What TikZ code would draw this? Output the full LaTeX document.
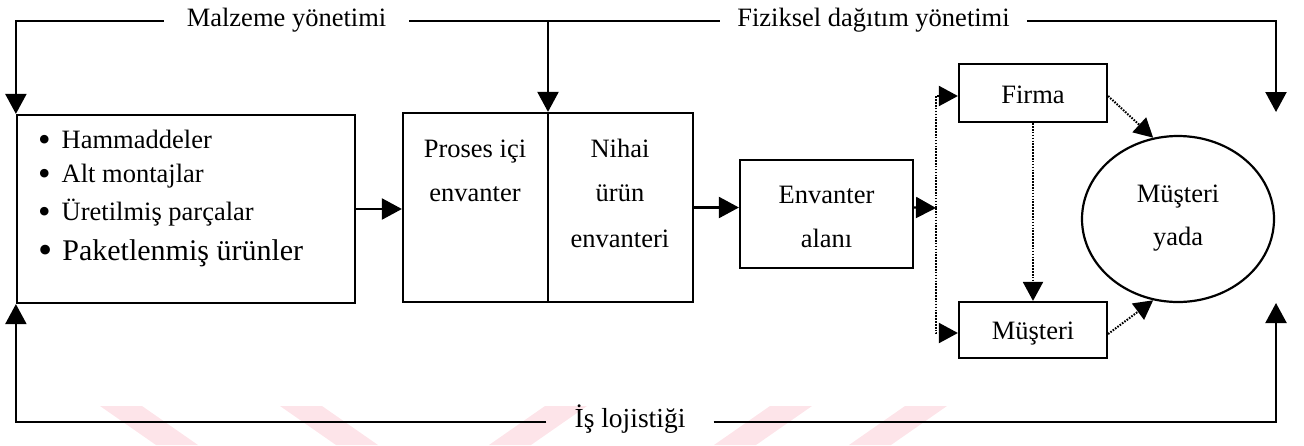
\documentclass[tikz,border=0pt]{standalone}
\usepackage{fontspec}
\usepackage{graphicx}
\setmainfont{Liberation Serif}
\usetikzlibrary{arrows.meta,shapes.geometric}
\definecolor{stripe}{RGB}{253,228,233}
\newcommand{\bigdot}{\raisebox{-3pt}{\scalebox{1.35}{\textbullet}}}
\begin{document}
\begin{tikzpicture}[x=1pt,y=-1pt,
  every node/.style={font=\fontsize{26.5}{30}\selectfont, inner sep=0pt},
  frame/.style={draw, line width=2.2pt, rectangle},
  plain/.style={line width=2.2pt},
  link/.style={line width=2.2pt, -{Triangle[length=20pt,width=21pt]}},
  dotlink/.style={line width=2pt, dash pattern=on 1.6pt off 1.3pt, -{Triangle[length=19pt,width=20pt]}},
  lbl/.style={text height=18pt, text depth=7pt},
  big/.style={font=\fontsize{30}{34}\selectfont}
]
\useasboundingbox (0,0) rectangle (1304,445);

% faint diagonal stripes along the lower edge
\fill[stripe] (100,406) -- (142,406) -- (198,445) -- (156,445) -- cycle;
\fill[stripe] (280,406) -- (322,406) -- (378,445) -- (336,445) -- cycle;
\fill[stripe] (545,406) -- (587,406) -- (531,445) -- (489,445) -- cycle;
\fill[stripe] (770,406) -- (812,406) -- (756,445) -- (714,445) -- cycle;
\fill[stripe] (905,406) -- (947,406) -- (891,445) -- (849,445) -- cycle;

% boxes
\node[frame, minimum width=338pt, minimum height=188pt] (lbox) at (186,209) {};
\node[frame, minimum width=290pt, minimum height=189pt] (pbox) at (548,207.5) {};
\node[frame, minimum width=173pt, minimum height=108pt] (env) at (826.5,214) {};
\node[frame, minimum width=148pt, minimum height=58pt] (firma) at (1033,93) {};
\node[frame, minimum width=148pt, minimum height=56pt] (must) at (1033,330) {};
\node[draw, line width=2.2pt, ellipse, minimum width=192pt, minimum height=166pt] (circ) at (1178,219) {};

% divider of the inventory box
\draw[plain] (pbox.north) -- (pbox.south);

% list of materials
\node[anchor=base west] (h1) at (38,148) {\bigdot\hspace{11pt}Hammaddeler};
\node[anchor=base west] (h2) at (38,182) {\bigdot\hspace{11pt}Alt montajlar};
\node[anchor=base west] (h3) at (38,220) {\bigdot\hspace{11pt}Üretilmiş parçalar};
\node[anchor=base west, big] (h4) at (38,260) {\bigdot\hspace{10pt}Paketlenmiş ürünler};

% inventory texts
\node[anchor=base] (p1) at (475,157) {Proses içi};
\node[anchor=base] (p2) at (475,201) {envanter};
\node[anchor=base] (n1) at (620,157) {Nihai};
\node[anchor=base] (n2) at (620,201) {ürün};
\node[anchor=base] (n3) at (620,247) {envanteri};
\node[anchor=base] (e1) at (826.5,203) {Envanter};
\node[anchor=base] (e2) at (826.5,247) {alanı};
\node[anchor=base] (f1) at (1033,103) {Firma};
\node[anchor=base] (m1) at (1033,339) {Müşteri};
\node[anchor=base] (c1) at (1178,202) {Müşteri};
\node[anchor=base] (c2) at (1178,245) {yada};

% labels on the frame lines
\node[lbl, inner xsep=23pt] (mlab) at (286.5,21) {Malzeme yönetimi};
\node[lbl, inner xsep=17pt] (flab) at (873.5,21) {Fiziksel dağıtım yönetimi};
\node[lbl, inner xsep=28pt, font=\fontsize{27.5}{30}\selectfont] (ilab) at (630,422) {İş lojistiği};

\coordinate (br) at (548,21);
\coordinate (rtop) at (1276,112);
\coordinate (rbot) at (1276,303);
\coordinate (split) at (936,208);

% management frame
\draw[link] (mlab.west) -| (lbox.north west);
\draw[plain] (mlab.east) -- (flab.west);
\draw[link] (flab.east) -| (rtop);
\draw[link] (br) -- (pbox.north);
\draw[link] (ilab.west) -| (lbox.south west);
\draw[link] (ilab.east) -| (rbot);

% flow
\draw[link] (lbox.east) -- (lbox.east -| pbox.west);
\draw[link] (pbox.east) -- (pbox.east -| env.west);
\draw[link] (pbox.east -| env.east) -- (split);
\draw[dotlink] (split) |- ([yshift=-3pt]firma.west);
\draw[dotlink] (split) |- ([yshift=-3pt]must.west);
\draw[dotlink] (firma.south) -- (must.north);
\draw[dotlink] ([yshift=-3pt]firma.east) -- (circ.107);
\draw[dotlink] ([yshift=-4pt]must.east) -- (circ.-107);
\end{tikzpicture}
\end{document}
